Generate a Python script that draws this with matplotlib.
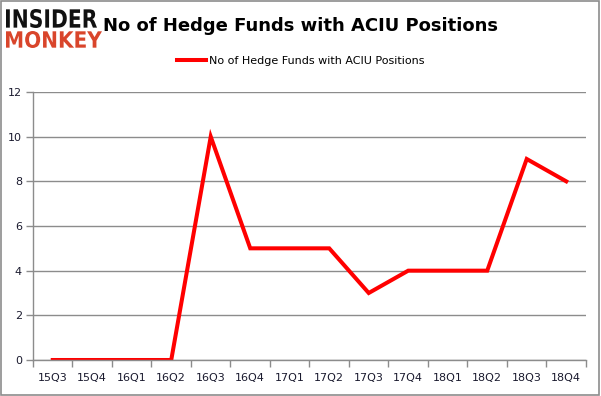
import matplotlib
matplotlib.use("Agg")
import matplotlib.pyplot as plt
from matplotlib.patches import Rectangle, PathPatch
from matplotlib.textpath import TextPath
from matplotlib.font_manager import FontProperties
from matplotlib.transforms import Affine2D

quarters = ["15Q3", "15Q4", "16Q1", "16Q2", "16Q3", "16Q4", "17Q1", "17Q2",
            "17Q3", "17Q4", "18Q1", "18Q2", "18Q3", "18Q4"]
funds = [0, 0, 0, 0, 10, 5, 5, 5, 3, 4, 4, 4, 9, 8]
yticks = [0, 2, 4, 6, 8, 10, 12]

W, H = 601, 396
fig = plt.figure(figsize=(W / 100, H / 100), dpi=100)
ax = fig.add_axes([0.0549, 0.0909, 0.975 - 0.0549, 0.7677 - 0.0909])

xs = list(range(len(quarters)))
ax.plot(xs, funds, color="#ff0000", linewidth=2.9, solid_joinstyle="miter",
        label="No of Hedge Funds with ACIU Positions")

ax.set_xlim(-0.5, len(quarters) - 0.5)
ax.set_ylim(0, 12)
ax.set_yticks(yticks)
ax.set_xticks(xs)
ax.set_xticklabels(quarters)
ax.set_xticks([i - 0.5 for i in range(len(quarters) + 1)], minor=True)
ax.tick_params(axis="x", which="major", length=0, pad=9, labelsize=8, labelcolor="#1a1a2e")
ax.tick_params(axis="x", which="minor", length=5, color="#8c8c8c", width=1)
ax.tick_params(axis="y", length=5, color="#8c8c8c", width=1, labelsize=8, labelcolor="#1a1a2e", pad=3)
ax.grid(axis="y", color="#8c8c8c", linewidth=1)
ax.set_axisbelow(True)
for s in ["top", "right"]:
    ax.spines[s].set_visible(False)
for s in ["left", "bottom"]:
    ax.spines[s].set_color("#8c8c8c")
    ax.spines[s].set_linewidth(1)

fig.legend(loc="center", bbox_to_anchor=(0.5, 0.845), frameon=False,
           fontsize=8, handlelength=2.6, handletextpad=0.3)

fig.text(0.5, 0.935, "No of Hedge Funds with ACIU Positions", ha="center", va="center",
         fontsize=13, fontweight="bold", color="#000000")

# logo: text stretched into boxes (pixel coords, y from top)
fp = FontProperties(family="DejaVu Sans", weight="heavy")
def logo_word(word, x0, x1, ytop, ybot, color):
    tp = TextPath((0, 0), word, size=10, prop=fp)
    ext = tp.get_extents()
    sx = (x1 - x0) / ext.width
    sy = (ybot - ytop) / ext.height
    tr = Affine2D().translate(-ext.x0, -ext.y0).scale(sx, sy).translate(x0, H - ybot)
    patch = PathPatch(tr.transform_path(tp), facecolor=color, edgecolor="none",
                      transform=fig.dpi_scale_trans.frozen() if False else None)
    patch.set_transform(Affine2D())
    fig.patches.append(patch)

logo_word("INSIDER", 6, 97, 9, 28, "#111111")
logo_word("MONKEY", 6, 102, 31, 48, "#d9452b")

fig.patches.append(Rectangle((0.001, 0.002), 0.996, 0.996, transform=fig.transFigure,
                             fill=False, edgecolor="#8c8c8c", linewidth=1.2))

fig.savefig("out.png", dpi=100)
